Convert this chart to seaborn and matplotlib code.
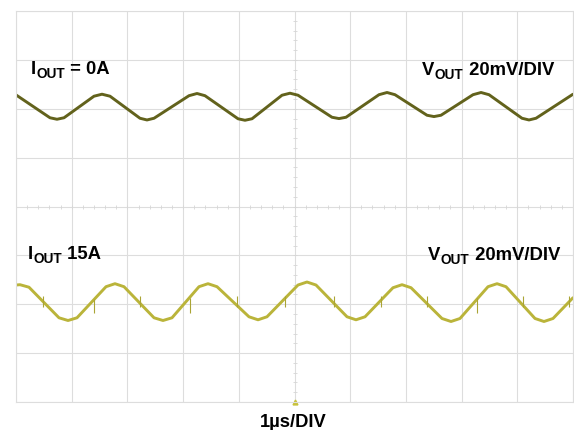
import numpy as np
import pandas as pd
import matplotlib
matplotlib.use("Agg")
import matplotlib.pyplot as plt
import seaborn as sns

# ---- data (time in µs, voltage in mV, read from the scope capture) ----
top_t = [0.000, 0.610, 0.736, 0.862, 1.400, 1.544, 1.688, 2.226, 2.352, 2.478,
         3.106, 3.250, 3.393, 3.986, 4.111, 4.237, 4.776, 4.919, 5.063, 5.673,
         5.799, 5.925, 6.517, 6.661, 6.804, 7.379, 7.504, 7.630, 8.205, 8.349,
         8.492, 9.084, 9.210, 9.336, 10.000]
top_v = [45.67, 36.31, 35.70, 36.31, 45.13, 45.95, 45.13, 36.11, 35.41, 36.11,
         45.34, 46.24, 45.34, 35.90, 35.29, 35.90, 45.54, 46.36, 45.54, 36.52,
         35.98, 36.52, 45.75, 46.65, 45.75, 37.34, 36.80, 37.34, 45.75, 46.65,
         45.75, 36.11, 35.41, 36.11, 45.95]

bot_t = [0.000, 0.072, 0.233, 0.772, 0.934, 1.095, 1.616, 1.777, 1.939, 2.478,
         2.639, 2.801, 3.285, 3.447, 3.609, 4.183, 4.345, 4.506, 5.063, 5.224,
         5.386, 5.943, 6.104, 6.266, 6.768, 6.930, 7.092, 7.648, 7.810, 7.971,
         8.474, 8.636, 8.797, 9.318, 9.479, 9.641, 10.000]
bot_v = [-32.13, -32.00, -33.03, -45.54, -46.65, -45.54, -32.82, -31.59, -32.82,
         -45.54, -46.65, -45.54, -32.82, -31.59, -32.82, -45.13, -46.36, -45.13,
         -32.13, -30.90, -32.13, -45.13, -46.36, -45.13, -33.24, -32.00, -33.24,
         -45.83, -47.06, -45.83, -32.82, -31.59, -32.82, -45.83, -47.06, -45.83,
         -37.34]

# switching spikes on the 15A trace
spike_t = [0.48, 1.40, 2.23, 3.12, 3.97, 4.83, 5.71, 6.55, 7.38, 8.28, 9.10, 9.93]
spike_lo = [-41.0, -43.5, -41.0, -43.5, -41.0, -41.0, -41.0, -41.0, -41.0, -43.5, -41.0, -41.0]
spike_hi = [-36.5, -38.0, -36.5, -37.5, -36.5, -36.5, -36.5, -36.5, -36.5, -37.5, -36.5, -36.5]

labels_top = ("I", "OUT", " = 0A")
labels_bot = ("I", "OUT", " 15A")
vout_label = ("V", "OUT", " 20mV/DIV")
time_label = "1µs/DIV"

sns.set_theme(style="white")
plt.rcParams['font.family'] = ['Liberation Sans', 'DejaVu Sans']

fig = plt.figure(figsize=(5.74, 4.30), dpi=100)
ax = fig.add_axes([16/574, 28/430, 557/574, 391/430])

grid_c = "#dddddd"
ax.set_xlim(0, 10)
ax.set_ylim(-80, 80)
ax.set_xticks(np.arange(0, 11, 1))
ax.set_yticks(np.arange(-80, 81, 20))
ax.grid(True, color=grid_c, linewidth=0.8)
ax.tick_params(left=False, bottom=False, labelleft=False, labelbottom=False)
for s in ax.spines.values():
    s.set_color(grid_c)
    s.set_linewidth(0.8)

# centre-line minor ticks
mx = np.arange(0, 10.01, 0.2)
my = np.arange(-80, 80.01, 4)
ax.plot(mx, np.zeros_like(mx), linestyle="none", marker="|", markersize=3,
        color="#d6d6d6", markeredgewidth=0.6)
ax.plot(np.full_like(my, 5.0), my, linestyle="none", marker="_", markersize=3,
        color="#d6d6d6", markeredgewidth=0.6)

df_top = pd.DataFrame({"t": top_t, "v": top_v})
df_bot = pd.DataFrame({"t": bot_t, "v": bot_v})
sns.lineplot(data=df_top, x="t", y="v", ax=ax, color="#62621c", linewidth=2.1,
             sort=False, estimator=None, solid_joinstyle="round")
sns.lineplot(data=df_bot, x="t", y="v", ax=ax, color="#bab43a", linewidth=2.1,
             sort=False, estimator=None, solid_joinstyle="round")
ax.vlines(spike_t, spike_lo, spike_hi, color="#aaa435", linewidth=0.8)
ax.set_xlabel("")
ax.set_ylabel("")

# trigger marker
ax.plot([5.0], [-80], marker="^", markersize=3.5, color="#c8c23c",
        clip_on=False, linestyle="none")

fs = 13.3
fss = 9.8

def sub_label(x, y, parts):
    main, sub, rest = parts
    t1 = fig.text(x, y, main, fontsize=fs, fontweight="bold", color="black",
                  ha="left", va="baseline")
    fig.canvas.draw()
    r = fig.canvas.get_renderer()
    bb = t1.get_window_extent(r)
    x2 = bb.x1 / fig.bbox.width
    t2 = fig.text(x2 + 0.001, y - 4/430, sub, fontsize=fss, fontweight="bold",
                  color="black", ha="left", va="baseline")
    bb2 = t2.get_window_extent(r)
    x3 = bb2.x1 / fig.bbox.width
    fig.text(x3, y, rest, fontsize=fs, fontweight="bold", color="black",
             ha="left", va="baseline")

sub_label(31/574, 1 - 74/430, labels_top)
sub_label(28/574, 1 - 259/430, labels_bot)
sub_label(422/574, 1 - 75/430, vout_label)
sub_label(428/574, 1 - 260/430, vout_label)

fig.text(293/574, 1 - 427/430, time_label, fontsize=13.2, fontweight="bold",
         color="black", ha="center", va="baseline")

fig.savefig("out.png", dpi=100, facecolor="white")
